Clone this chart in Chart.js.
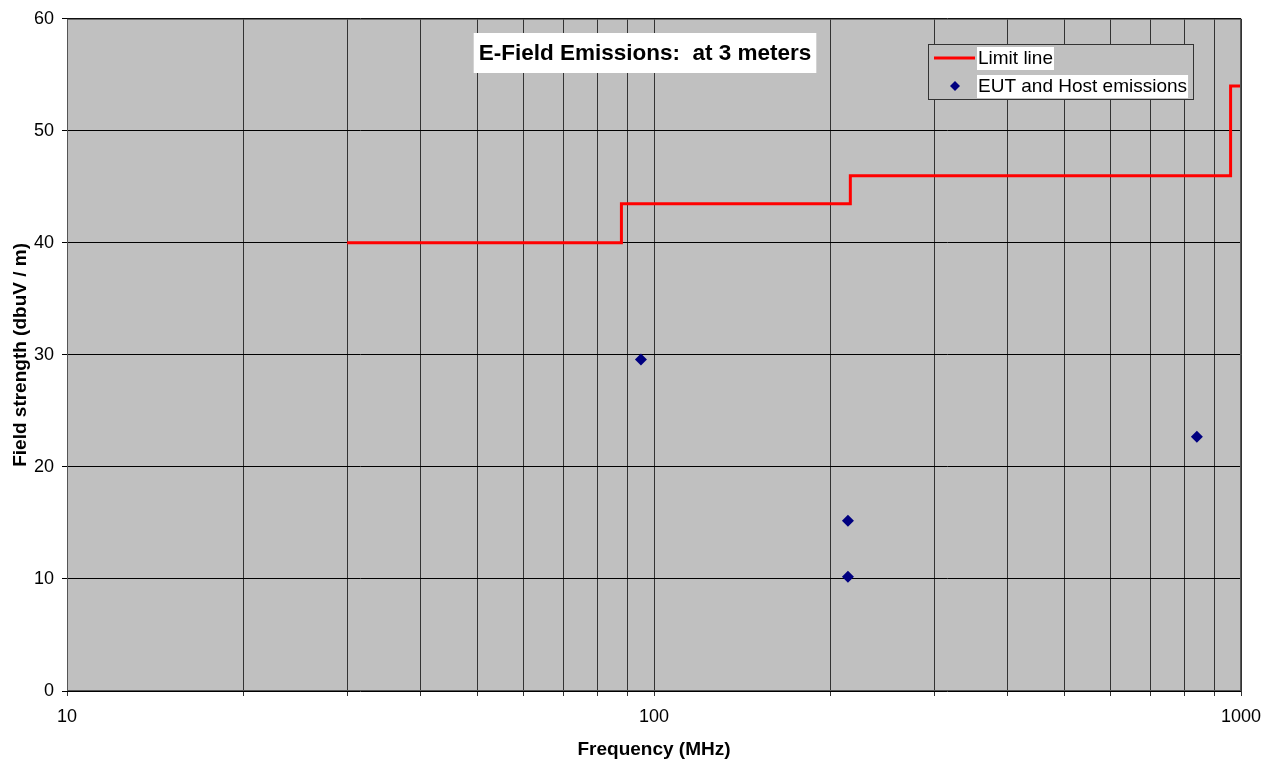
<!DOCTYPE html>
<html>
<head>
<meta charset="utf-8">
<script src="https://cdn.jsdelivr.net/npm/chart.js@4"></script>
<style>
  html, body { margin: 0; padding: 0; background: #fff; }
  #wrap { width: 1273px; height: 762px; }
</style>
</head>
<body>
<div id="wrap"><canvas id="emChart" width="1273" height="762"></canvas></div>
<script>
// limit line (stepped), frequency in MHz / level in dBuV/m
const limitFreq  = [30, 88, 216, 960, 1000];
const limitLevel = [40, 43.5, 46, 54, 54];

// measured emissions
const emFreq  = [95, 214, 214, 841];
const emLevel = [29.6, 15.2, 10.2, 22.7];

// gridline positions on the log axis
const xGrid = [10, 20, 30, 40, 50, 60, 70, 80, 90, 100, 200, 300, 400, 500, 600, 700, 800, 900, 1000];
const xLabeled = [10, 100, 1000];

const FONT = 'Liberation Sans, Arial, sans-serif';

// grey plot area + border
const plotBg = {
    id: 'plotBg',
    beforeDraw(chart) {
        const { ctx, chartArea: a } = chart;
        ctx.save();
        ctx.fillStyle = '#c0c0c0';
        ctx.fillRect(a.left, a.top, a.right - a.left, a.bottom - a.top);
        ctx.restore();
    },
    afterDatasetsDraw(chart) {
        const { ctx, chartArea: a } = chart;
        ctx.save();
        ctx.strokeStyle = '#555';
        ctx.lineWidth = 1;
        ctx.strokeRect(a.left + 0.5, a.top + 0.5, a.right - a.left - 1, a.bottom - a.top - 1);
        ctx.restore();
    }
};

// title box and legend box drawn inside the plot
const boxes = {
    id: 'boxes',
    afterDraw(chart) {
        const ctx = chart.ctx;
        ctx.save();

        // title
        ctx.font = 'bold 22.5px ' + FONT;
        const title = 'E-Field Emissions:  at 3 meters';
        const tw = ctx.measureText(title).width;
        const cx = 645, cy = 53;
        ctx.fillStyle = '#fff';
        ctx.fillRect(cx - tw / 2 - 5, cy - 20, tw + 10, 40);
        ctx.fillStyle = '#000';
        ctx.textAlign = 'center';
        ctx.textBaseline = 'middle';
        ctx.fillText(title, cx, cy + 1);

        // legend
        const lx = 928, ly = 44, lw = 265, lh = 55;
        ctx.fillStyle = '#c0c0c0';
        ctx.fillRect(lx, ly, lw, lh);
        ctx.strokeStyle = '#333';
        ctx.lineWidth = 1;
        ctx.strokeRect(lx + 0.5, ly + 0.5, lw, lh);

        ctx.font = '19px ' + FONT;
        ctx.textAlign = 'left';
        const ds = chart.data.datasets;
        const rows = [58, 86];
        rows.forEach((y, i) => {
            const label = ds[i].label;
            const w = ctx.measureText(label).width;
            ctx.fillStyle = '#fff';
            ctx.fillRect(977, y - 11, w + 2, 23);
            ctx.fillStyle = '#000';
            ctx.fillText(label, 978, y + 1);
        });
        // legend samples
        ctx.strokeStyle = '#ff0000';
        ctx.lineWidth = 3;
        ctx.beginPath();
        ctx.moveTo(934, 58);
        ctx.lineTo(975, 58);
        ctx.stroke();
        ctx.fillStyle = '#000080';
        ctx.beginPath();
        ctx.moveTo(955, 81);
        ctx.lineTo(960, 86);
        ctx.lineTo(955, 91);
        ctx.lineTo(950, 86);
        ctx.closePath();
        ctx.fill();

        ctx.restore();
    }
};

new Chart(document.getElementById('emChart'), {
    type: 'scatter',
    data: {
        datasets: [{
            label: 'Limit line',
            type: 'line',
            data: limitFreq.map((f, i) => ({ x: f, y: limitLevel[i] })),
            borderColor: '#ff0000',
            borderWidth: 3,
            stepped: 'before',
            pointRadius: 0,
            fill: false
        }, {
            label: 'EUT and Host emissions',
            data: emFreq.map((f, i) => ({ x: f, y: emLevel[i] })),
            pointStyle: 'rectRot',
            pointRadius: 6,
            backgroundColor: '#000080',
            borderColor: '#000080',
            borderWidth: 0
        }]
    },
    options: {
        responsive: false,
        animation: false,
        layout: { padding: { top: 18, right: 32, left: 0, bottom: 0 } },
        plugins: {
            legend: { display: false },
            tooltip: { enabled: false }
        },
        scales: {
            x: {
                type: 'logarithmic',
                min: 10,
                max: 1000,
                afterBuildTicks: scale => { scale.ticks = xGrid.map(v => ({ value: v })); },
                afterFit: scale => { scale.height = 71; },
                ticks: {
                    autoSkip: false,
                    maxRotation: 0,
                    padding: 10,
                    color: '#000',
                    font: { family: FONT, size: 18 },
                    callback: v => xLabeled.includes(v) ? String(v) : ''
                },
                grid: { color: '#333', lineWidth: 1, tickLength: 5 },
                border: { display: false },
                title: {
                    display: true,
                    text: 'Frequency (MHz)',
                    color: '#000',
                    font: { family: FONT, size: 19, weight: 'bold' },
                    padding: { top: 0, bottom: 1 }
                }
            },
            y: {
                min: 0,
                max: 60,
                afterFit: scale => { scale.width = 67; },
                ticks: {
                    stepSize: 10,
                    padding: 8,
                    color: '#000',
                    font: { family: FONT, size: 18 }
                },
                grid: { color: '#000', lineWidth: 1, tickLength: 5 },
                border: { display: false },
                title: {
                    display: true,
                    text: 'Field strength (dbuV / m)',
                    color: '#000',
                    font: { family: FONT, size: 19, weight: 'bold' },
                    padding: { top: 9, bottom: 0 }
                }
            }
        }
    },
    plugins: [plotBg, boxes]
});
</script>
</body>
</html>
